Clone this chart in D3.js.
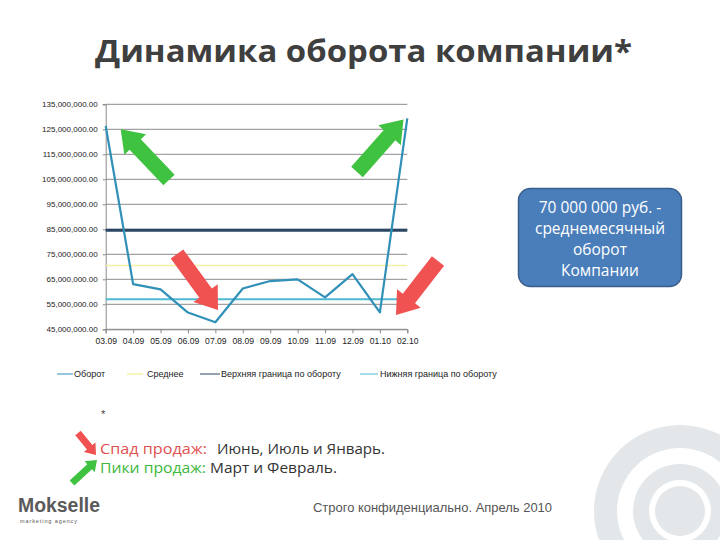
<!DOCTYPE html>
<html><head><meta charset="utf-8">
<script src="https://cdn.jsdelivr.net/npm/d3@7"></script>
<style>html,body{margin:0;padding:0;background:#fff;}svg{display:block;}</style>
</head><body>
<svg id="c" width="720" height="540"></svg>
<script>
// ---- data ----
const months = ["03.09","04.09","05.09","06.09","07.09","08.09","09.09","10.09","11.09","12.09","01.10","02.10"];
const turnover = [126300000,63100000,61000000,51700000,47800000,61300000,64300000,65000000,57800000,67100000,51800000,129400000];
const average = 70500000;
const upperBound = 84600000;
const lowerBound = 57000000;
const yTicks = [45000000,55000000,65000000,75000000,85000000,95000000,105000000,115000000,125000000,135000000];
const legendLabels = ["Оборот","Среднее","Верхняя граница по обороту","Нижняя граница по обороту"];
const titleText = "Динамика оборота компании*";
const calloutLines = ["70 000 000 руб. -","среднемесячный","оборот","Компании"];

const svg = d3.select("#c");

// decorative rings
const rings = svg.append("g").attr("fill","#e4e7ea");
rings.append("circle").attr("cx",680).attr("cy",511).attr("r",25);
rings.append("path").attr("d", d3.arc()({innerRadius:31,outerRadius:47,startAngle:0,endAngle:2*Math.PI})).attr("transform","translate(680,511)");
rings.append("path").attr("d", d3.arc()({innerRadius:63,outerRadius:86,startAngle:0,endAngle:2*Math.PI})).attr("transform","translate(680,511)");

// title
svg.append("text").attr("x",363.5).attr("y",62).attr("text-anchor","middle")
  .attr("font-family","'Open Sans', 'Noto Sans', sans-serif").attr("font-weight","bold")
  .attr("font-size",31).attr("fill","#3f3f3f")
  .attr("textLength",537).attr("lengthAdjust","spacingAndGlyphs").text(titleText);

// scales
const x = d3.scalePoint().domain(months).range([105.7,407.3]);
const y = d3.scaleLinear().domain([45000000,135000000]).range([329.3,104.3]);

// grid
const g = svg.append("g");
g.selectAll("line.grid").data(yTicks).enter().append("line")
  .attr("x1",105.7).attr("x2",407.3).attr("y1",d=>y(d)).attr("y2",d=>y(d))
  .attr("stroke","#8a8a8a").attr("stroke-width",1);

// y axis
const fmt = d => d3.format(",.2f")(d);
const yAxis = g.append("g").attr("transform","translate(105.7,0)")
  .call(d3.axisLeft(y).tickValues(yTicks).tickFormat(fmt).tickSize(3).tickPadding(5));
yAxis.select(".domain").attr("stroke","#8a8a8a");
yAxis.selectAll(".tick line").attr("stroke","#8a8a8a");
yAxis.selectAll("text").attr("font-family","'Liberation Sans', Arial, sans-serif").attr("font-size",8).attr("fill","#222");

// x axis
const xAxis = g.append("g").attr("transform","translate(0,329.3)")
  .call(d3.axisBottom(x).tickSize(4).tickPadding(5));
xAxis.select(".domain").attr("stroke","#8a8a8a");
xAxis.selectAll(".tick line").attr("stroke","#8a8a8a");
xAxis.selectAll("text").attr("font-family","'Liberation Sans', Arial, sans-serif").attr("font-size",8.6).attr("fill","#222");

// reference lines
const refLines = [
  {v:average, c:"#f4f0a8", w:1.5},
  {v:upperBound, c:"#2a4663", w:3},
  {v:lowerBound, c:"#4fb8d2", w:2}
];
g.selectAll("line.ref").data(refLines).enter().append("line")
  .attr("x1",105.7).attr("x2",407.3).attr("y1",d=>y(d.v)).attr("y2",d=>y(d.v))
  .attr("stroke",d=>d.c).attr("stroke-width",d=>d.w);

// turnover line
g.append("path").datum(turnover)
  .attr("d", d3.line().x((d,i)=>x(months[i])).y(d=>y(d)))
  .attr("fill","none").attr("stroke","#3190b8").attr("stroke-width",2.2).attr("stroke-linejoin","round");

// legend
const legendItems = [
  {c:"#3190b8", w:1, x0:57, x1:73, tx:74},
  {c:"#f4f0a8", w:1.5, x0:127, x1:143, tx:147},
  {c:"#2a4663", w:1, x0:200, x1:220, tx:221},
  {c:"#4fb8d2", w:1, x0:360, x1:378, tx:380}
];
const lg = svg.append("g");
legendItems.forEach((it,i)=>{
  lg.append("line").attr("x1",it.x0).attr("x2",it.x1).attr("y1",374).attr("y2",374).attr("stroke",it.c).attr("stroke-width",it.w);
  lg.append("text").attr("x",it.tx).attr("y",377).attr("font-family","'Liberation Sans', Arial, sans-serif")
    .attr("font-size",9).attr("fill","#222").text(legendLabels[i]);
});

// block arrow helper
function arrow(tail, tip, shaftW, headW, headL, color){
  const dx = tip[0]-tail[0], dy = tip[1]-tail[1];
  const L = Math.hypot(dx,dy), ux = dx/L, uy = dy/L, px = -uy, py = ux;
  const b = [tip[0]-ux*headL, tip[1]-uy*headL];
  const pts = [
    [tail[0]+px*shaftW/2, tail[1]+py*shaftW/2],
    [b[0]+px*shaftW/2, b[1]+py*shaftW/2],
    [b[0]+px*headW/2, b[1]+py*headW/2],
    tip,
    [b[0]-px*headW/2, b[1]-py*headW/2],
    [b[0]-px*shaftW/2, b[1]-py*shaftW/2],
    [tail[0]-px*shaftW/2, tail[1]-py*shaftW/2]
  ];
  svg.append("path").attr("d","M"+pts.map(p=>p.join(",")).join("L")+"Z").attr("fill",color);
}
const GREEN = "#3fc23f", RED = "#f05252";
arrow([169,180],[120.7,129.3],15.5,30,21,GREEN);
arrow([357,172],[403.5,119.5],15.5,30,21,GREEN);
arrow([177,254],[218,310],15.5,30,21,RED);
arrow([438,261],[396,315],15.5,30,21,RED);
arrow([78,433],[96,455],7,15,10,RED);
arrow([72,483],[97,460],7,15,10,GREEN);

// callout
svg.append("rect").attr("x",518.5).attr("y",188.5).attr("width",163).attr("height",98).attr("rx",12)
  .attr("fill","#4a7ebb").attr("stroke","#385e8c").attr("stroke-width",1.5);
const cb = [213,234,255,276];
calloutLines.forEach((t,i)=>{
  svg.append("text").attr("x",600).attr("y",cb[i]).attr("text-anchor","middle")
    .attr("font-family","'Open Sans', 'Noto Sans', sans-serif").attr("font-size",15.5).attr("fill","#fff").text(t);
});

// star
svg.append("text").attr("x",101).attr("y",418).attr("font-family","'Liberation Sans', Arial, sans-serif").attr("font-size",11).attr("fill","#444").text("*");

// notes
const noteFont = "'Open Sans', 'Noto Sans', sans-serif";
function note(txt, xx, yy, w, col){
  svg.append("text").attr("x",xx).attr("y",yy).attr("font-family",noteFont).attr("font-size",15)
    .attr("fill",col).attr("textLength",w).attr("lengthAdjust","spacingAndGlyphs").text(txt);
}
note("Спад продаж:",100,454,107,"#e05050");
note("Июнь, Июль и Январь.",217,454,168,"#333");
note("Пики продаж:",100,473,106,"#3cb83c");
note("Март и Февраль.",210,473,127,"#333");

// footer
svg.append("text").attr("x",18).attr("y",512).attr("font-family","'Liberation Sans', Arial, sans-serif").attr("font-weight","bold")
  .attr("font-size",20).attr("fill","#5a5a5a").attr("textLength",82).attr("lengthAdjust","spacingAndGlyphs").text("Mokselle");
svg.append("text").attr("x",20).attr("y",523).attr("font-family","'Liberation Sans', Arial, sans-serif")
  .attr("font-size",5.5).attr("fill","#555").attr("textLength",57).text("marketing agency");
svg.append("text").attr("x",313).attr("y",512).attr("font-family","'Liberation Sans Narrow','Liberation Sans', Arial, sans-serif")
  .attr("font-size",13).attr("fill","#555").attr("textLength",239).attr("lengthAdjust","spacingAndGlyphs").text("Строго конфиденциально. Апрель 2010");
</script>
</body></html>
